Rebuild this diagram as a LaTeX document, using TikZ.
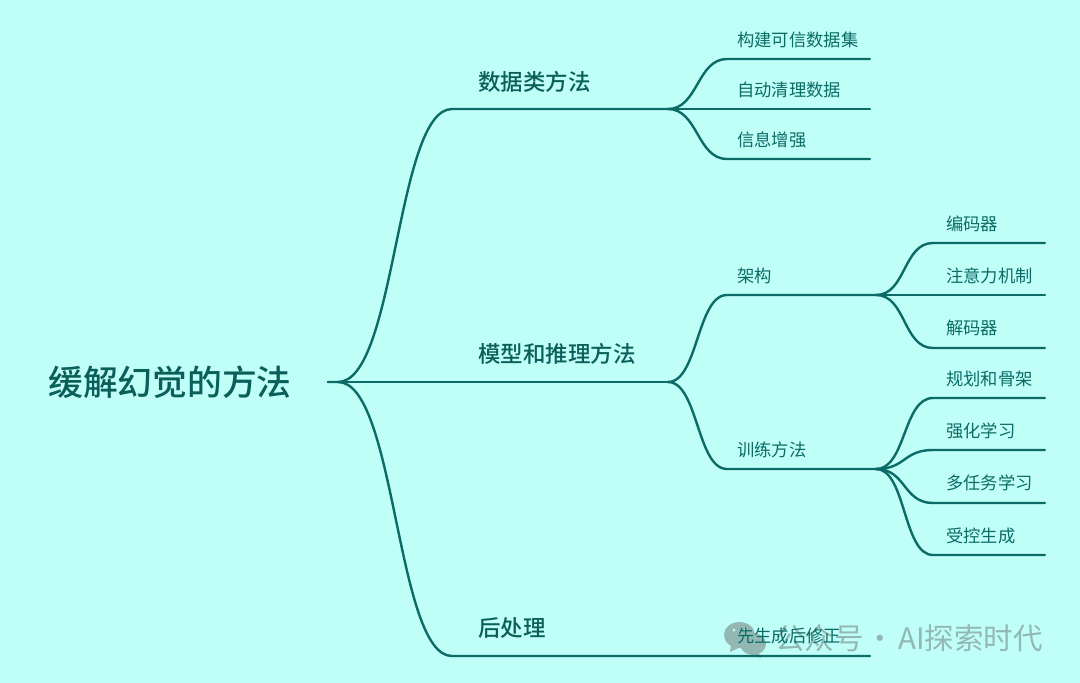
\documentclass[tikz,border=0pt]{standalone}
\usepackage{fontspec}
\setmainfont[BoldFont={Noto Sans CJK SC Medium}]{Noto Sans CJK SC}
\usetikzlibrary{positioning}
\definecolor{mapBack}{HTML}{C0FFF8}
\definecolor{mapLine}{HTML}{0B6B66}
\definecolor{mapText}{HTML}{0A5F5A}
\definecolor{markGray}{HTML}{93B8B4}

\begin{document}
\begin{tikzpicture}[
		x=1pt, y=-1pt,
		% Node styles
		rootNode/.style={anchor=west, inner sep=0pt, text=mapText, font=\fontsize{34.8}{40}\selectfont\bfseries},
		topicNode/.style={anchor=west, inner sep=0pt, text=mapText, font=\fontsize{22.5}{26}\selectfont\bfseries},
		leafNode/.style={anchor=west, inner sep=0pt, text=mapLine, font=\fontsize{17.3}{20}\selectfont},
		markNode/.style={anchor=west, inner sep=0pt, text=markGray, font=\fontsize{29.5}{34}\selectfont},
		% Line styles
		branchLine/.style={line width=2.4pt, draw=mapLine, line cap=round},
		wideCurve/.style={to path={.. controls +(58,0) and +(-56,0) .. (\tikztotarget)}},
		smallCurve/.style={to path={.. controls +(30,0) and +(-30,0) .. (\tikztotarget)}}
		]
		
		\fill[mapBack] (0,0) rectangle (1080,683);
		
		% =========================================================
		% 1. WATERMARK
		% =========================================================
		
		\fill[markGray] (739.5,635) ellipse (15.5 and 13);
		\fill[markGray] (731,644) -- (730,652) -- (741,647) -- cycle;
		\fill[markGray] (753,644) ellipse (13 and 11);
		\fill[markGray] (758,652) -- (761,658) -- (751,654) -- cycle;
		\fill[mapBack] (734,630) circle (1.5);
		\fill[mapBack] (745,630) circle (1.5);
		\node[markNode] (markText) at (775,638) {公众号\hspace{-5pt} · \hspace{-3pt}AI探索时代};
		
		% =========================================================
		% 2. BRANCH POINTS
		% =========================================================
		
		\coordinate (rootTip) at (328,382);
		\coordinate (rootOut) at (338,382);
		
		\coordinate (dataIn) at (452,109);
		\coordinate (dataOut) at (668,109);
		\coordinate (modelOut) at (668,382);
		\coordinate (postIn) at (452,656);
		\coordinate (postEnd) at (870,656);
		
		\coordinate (archIn) at (727,295);
		\coordinate (archOut) at (876,295);
		\coordinate (trainIn) at (727,469);
		\coordinate (trainOut) at (876,469);
		
		% Draw Branches
		\draw[branchLine] (rootTip) -- (rootOut) to[wideCurve] (dataIn) -- (dataOut);
		\draw[branchLine] (rootTip) -- (modelOut);
		\draw[branchLine] (rootOut) to[wideCurve] (postIn) -- (postEnd);
		
		% Data leaves
		\foreach \yPos in {59,109,159}
			\draw[branchLine] (dataOut) to[smallCurve] (727,\yPos) -- (870,\yPos);
		
		% Model branches
		\draw[branchLine] (modelOut) to[smallCurve] (archIn) -- (archOut);
		\draw[branchLine] (modelOut) to[smallCurve] (trainIn) -- (trainOut);
		
		% Architecture leaves
		\foreach \yPos in {243,295,348}
			\draw[branchLine] (archOut) to[smallCurve] (933,\yPos) -- (1045,\yPos);
		
		% Training leaves
		\foreach \yPos in {398,450,503,555}
			\draw[branchLine] (trainOut) to[smallCurve] (933,\yPos) -- (1045,\yPos);
		
		% =========================================================
		% 3. LABELS
		% =========================================================
		
		\node[rootNode] (rootLabel) at (48,382) {缓解幻觉的方法};
		
		\node[topicNode] (dataLabel) at (478,82) {数据类方法};
		\node[topicNode] (modelLabel) at (478,354) {模型和推理方法};
		\node[topicNode] (postLabel) at (478,628) {后处理};
		
		\node[leafNode] (trustLabel) at (737,40) {构建可信数据集};
		\node[leafNode] (cleanLabel) at (737,90) {自动清理数据};
		\node[leafNode] (infoLabel) at (737,140) {信息增强};
		
		\node[leafNode] (archLabel) at (737,276) {架构};
		\node[leafNode] (trainLabel) at (737,450) {训练方法};
		\node[leafNode] (fixLabel) at (737,636) {先生成后修正};
		
		\node[leafNode] (encLabel) at (946,224) {编码器};
		\node[leafNode] (attnLabel) at (946,276) {注意力机制};
		\node[leafNode] (decLabel) at (946,328) {解码器};
		
		\node[leafNode] (planLabel) at (946,379) {规划和骨架};
		\node[leafNode] (reinLabel) at (946,431) {强化学习};
		\node[leafNode] (multiLabel) at (946,483) {多任务学习};
		\node[leafNode] (ctrlLabel) at (946,536) {受控生成};
		
\end{tikzpicture}
\end{document}
